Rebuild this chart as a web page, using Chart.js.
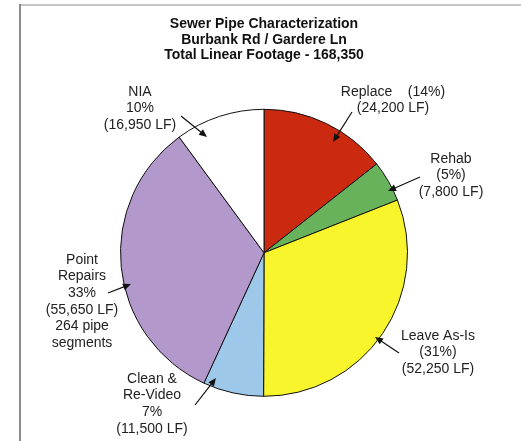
<!DOCTYPE html>
<html>
<head>
<meta charset="utf-8">
<title>Sewer Pipe Characterization</title>
<script src="https://cdn.jsdelivr.net/npm/chart.js@4"></script>
<style>
  html, body { margin: 0; padding: 0; background: #fff; }
  #wrap { width: 521px; height: 441px; }
</style>
</head>
<body>
<div id="wrap"><canvas id="pie" width="521" height="441"></canvas></div>
<script>
/* ──────── DATA ──────── */

const categories = ['Replace', 'Rehab', 'Leave As-Is', 'Clean & Re-Video', 'Point Repairs', 'NIA'];
const footage = [24200, 7800, 52250, 11500, 55650, 16950];
const sliceColors = ['#cc2a10', '#68b25c', '#f8f52c', '#9dc8ea', '#b398cb', '#ffffff'];
const titleLines = ['Sewer Pipe Characterization', 'Burbank Rd / Gardere Ln', 'Total Linear Footage - 168,350'];

const total = footage.reduce((a, b) => a + b, 0);
const pct = footage.map(v => Math.round(v / total * 100));
const lf = v => '(' + v.toLocaleString('en-US') + ' LF)';

// label text per slice (same order as categories)
const labelLines = [
  ['Replace    (' + pct[0] + '%)', lf(footage[0])],
  ['Rehab', '(' + pct[1] + '%)', lf(footage[1])],
  ['Leave As-Is', '(' + pct[2] + '%)', lf(footage[2])],
  ['Clean &', 'Re-Video', pct[3] + '%', lf(footage[3])],
  ['Point', 'Repairs', pct[4] + '%', lf(footage[4]), '264 pipe', 'segments'],
  ['NIA', pct[5] + '%', lf(footage[5])],
];

/* ──────── LAYOUT (label + arrow placement) ──────── */

const labelLayout = [
  { x: 393, y: 92,  tail: [352, 112], tip: [333, 142] },
  { x: 451, y: 159, tail: [420, 177], tip: [388, 191] },
  { x: 438, y: 336, tail: [399, 353], tip: [375, 337] },
  { x: 152, y: 379, tail: [195, 405], tip: [216, 378] },
  { x: 82,  y: 260, tail: [108, 293], tip: [131, 284] },
  { x: 140, y: 92,  tail: [181, 116], tip: [207, 137] },
];

const FONT = '"Liberation Sans", Arial, sans-serif';

/* ──────── PLUGINS ──────── */

const framePlugin = {
  id: 'frame',
  beforeDraw(chart) {
    const ctx = chart.ctx;
    ctx.save();
    ctx.lineWidth = 2;
    ctx.strokeStyle = '#c6c6c6';
    ctx.beginPath();
    ctx.moveTo(20, 5);
    ctx.lineTo(chart.width, 5);
    ctx.stroke();
    ctx.strokeStyle = '#8c8c8c';
    ctx.beginPath();
    ctx.moveTo(20, 4);
    ctx.lineTo(20, chart.height);
    ctx.stroke();
    ctx.restore();
  }
};

function drawArrow(ctx, tail, tip) {
  const ang = Math.atan2(tip[1] - tail[1], tip[0] - tail[0]);
  const len = 8, half = 3.5;
  ctx.beginPath();
  ctx.moveTo(tail[0], tail[1]);
  ctx.lineTo(tip[0] - Math.cos(ang) * len * 0.8, tip[1] - Math.sin(ang) * len * 0.8);
  ctx.stroke();
  ctx.beginPath();
  ctx.moveTo(tip[0], tip[1]);
  ctx.lineTo(tip[0] - Math.cos(ang) * len - Math.sin(ang) * half, tip[1] - Math.sin(ang) * len + Math.cos(ang) * half);
  ctx.lineTo(tip[0] - Math.cos(ang) * len + Math.sin(ang) * half, tip[1] - Math.sin(ang) * len - Math.cos(ang) * half);
  ctx.closePath();
  ctx.fill();
}

const labelPlugin = {
  id: 'sliceLabels',
  afterDraw(chart) {
    const ctx = chart.ctx;
    ctx.save();
    ctx.font = '14px ' + FONT;
    ctx.textAlign = 'center';
    ctx.textBaseline = 'middle';
    ctx.fillStyle = '#222';
    labelLines.forEach((lines, i) => {
      const l = labelLayout[i];
      lines.forEach((t, j) => ctx.fillText(t, l.x, l.y + j * 16.6));
    });
    ctx.strokeStyle = '#111';
    ctx.fillStyle = '#111';
    ctx.lineWidth = 1.2;
    labelLayout.forEach(l => drawArrow(ctx, l.tail, l.tip));
    ctx.restore();
  }
};

/* ──────── CHART ──────── */

new Chart(document.getElementById('pie'), {
  type: 'pie',
  data: {
    labels: categories,
    datasets: [{
      data: footage,
      backgroundColor: sliceColors,
      borderColor: '#111',
      borderWidth: 1,
    }]
  },
  options: {
    responsive: false,
    animation: false,
    devicePixelRatio: 1,
    layout: { padding: { top: 0, left: 120, right: 113, bottom: 44 } },
    plugins: {
      legend: { display: false },
      tooltip: { enabled: false },
      title: {
        display: true,
        text: titleLines,
        color: '#111',
        font: { family: FONT, size: 14, weight: 'bold', lineHeight: 1.11 },
        padding: { top: 16.5, bottom: 45.5 },
      }
    }
  },
  plugins: [framePlugin, labelPlugin]
});
</script>
</body>
</html>
